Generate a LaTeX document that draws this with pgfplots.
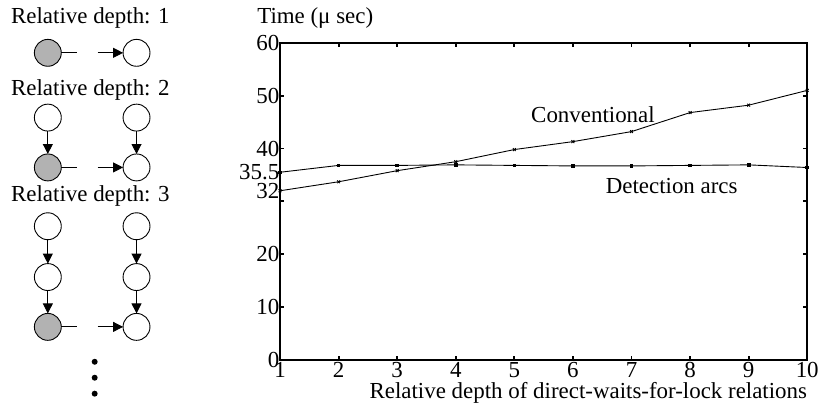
\documentclass[border=0pt]{standalone}
\usepackage{pgfplots}
\pgfplotsset{compat=1.18}
\usepackage{fontspec}
\setmainfont{Liberation Serif}
\usetikzlibrary{arrows.meta}
\definecolor{nodegray}{RGB}{178,178,178}

\begin{document}
\begin{tikzpicture}[x=1pt,y=-1pt,
  font=\fontsize{23}{26}\selectfont,
  circ/.style={draw, line width=0.9pt, fill=white},
  lk/.style={line width=0.9pt},
  ar/.style={line width=0.9pt, -{Triangle[length=10pt,width=10pt]}}]
\path (0,0) rectangle (822,408);

%% left schematic
\node[anchor=west, inner sep=0pt] at (11,18) {Relative depth: 1};
\draw[circ, fill=nodegray] (48,53) circle (13.5);
\draw[circ] (137,53) circle (13.5);
\draw[lk] (61.5,53) -- (77,53);
\draw[ar] (98,53) -- (123.5,53);

\node[anchor=west, inner sep=0pt] at (11,90) {Relative depth: 2};
\draw[circ] (48,118) circle (13.5);
\draw[circ] (137,118) circle (13.5);
\draw[ar] (48,131.5) -- (48,154.5);
\draw[ar] (137,131.5) -- (137,154.5);
\draw[circ, fill=nodegray] (48,168) circle (13.5);
\draw[circ] (137,168) circle (13.5);
\draw[lk] (61.5,168) -- (77,168);
\draw[ar] (98,168) -- (123.5,168);

\node[anchor=west, inner sep=0pt] at (11,197) {Relative depth: 3};
\draw[circ] (48,227) circle (13.5);
\draw[circ] (137,227) circle (13.5);
\draw[ar] (48,240.5) -- (48,264.5);
\draw[ar] (137,240.5) -- (137,264.5);
\draw[circ] (48,278) circle (13.5);
\draw[circ] (137,278) circle (13.5);
\draw[ar] (48,291.5) -- (48,314.5);
\draw[ar] (137,291.5) -- (137,314.5);
\draw[circ, fill=nodegray] (48,328) circle (13.5);
\draw[circ] (137,328) circle (13.5);
\draw[lk] (61.5,328) -- (77,328);
\draw[ar] (98,328) -- (123.5,328);
\fill (95,363) circle (3);
\fill (95,379) circle (3);
\fill (95,395) circle (3);

%% chart
\begin{axis}[
  at={(281pt,-361pt)}, anchor=south west,
  scale only axis, width=529pt, height=318pt,
  xmin=1, xmax=10, ymin=0, ymax=60,
  xtick={1,...,10},
  ytick={0,10,20,30,40,50,60},
  yticklabels={0,10,20,,40,50,60},
  extra y ticks={32,35.5},
  extra y tick style={major tick length=0pt},
  tick align=inside,
  major tick length=4pt,
  axis line style={line width=2pt},
  every tick/.style={line width=2pt, black},
  tick label style={font=\fontsize{23}{26}\selectfont},
  /pgf/number format/assume math mode=true,
  yticklabel style={inner xsep=0.5pt},
  xticklabel style={inner ysep=2.5pt},
  clip=false,
]
\addplot[line width=0.9pt, mark=x, mark size=2pt] coordinates {
  (1,32) (2,33.7) (3,35.8) (4,37.5) (5,39.8) (6,41.3) (7,43.2) (8,46.8) (9,48.2) (10,51)
};
\addplot[line width=0.9pt, mark=square*, mark size=1.3pt] coordinates {
  (1,35.5) (2,36.8) (3,36.8) (4,36.9) (5,36.8) (6,36.7) (7,36.7) (8,36.8) (9,36.9) (10,36.4)
};
\end{axis}

\node[anchor=west, inner sep=0pt] at (258,18) {Time (μ sec)};
\node[inner sep=0pt] at (595,115) {Conventional};
\node[inner sep=0pt] at (674,187) {Detection arcs};
\node[anchor=east, inner sep=0pt] at (810,394) {Relative depth of direct-waits-for-lock relations};
\end{tikzpicture}
\end{document}
